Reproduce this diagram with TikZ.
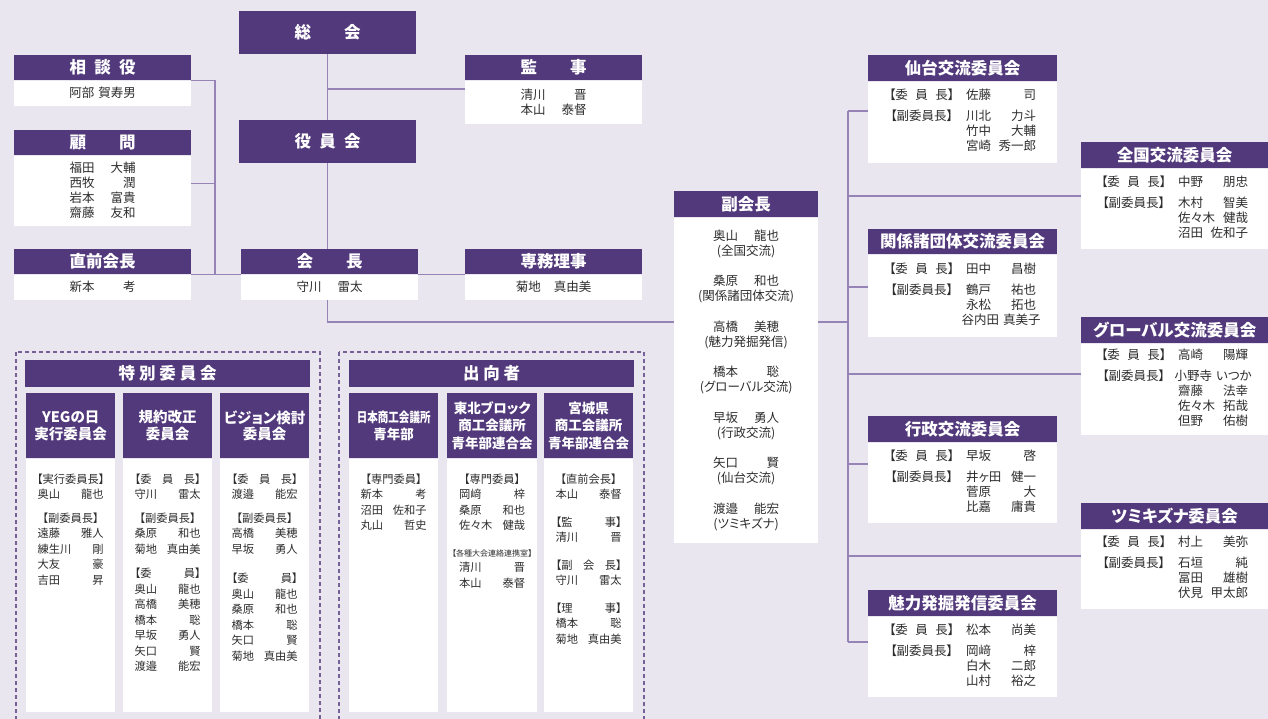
\documentclass[tikz,border=0pt]{standalone}
\usepackage{graphicx}
\usepackage{fontspec}
\setmainfont{Noto Sans CJK JP}[RawFeature={+palt}]
\usepackage{tikz}
\usetikzlibrary{positioning}
\definecolor{ybg}{RGB}{233,230,239}
\definecolor{ypurple}{RGB}{82,57,123}
\definecolor{yline}{RGB}{150,132,182}
\definecolor{ytext}{RGB}{45,45,45}
\newlength\pnw \setlength\pnw{66pt}
\newlength\lbw \setlength\lbw{66pt}
\newcommand\pn[2]{\makebox[\pnw]{#1\hspace{4pt}\hfill #2}}
\newcommand\lb[1]{\makebox[\lbw]{#1}}
\newcommand\cmbody[2]{\begin{tabular}{@{}l@{\hspace{12pt}}l@{}}\lb{【委\hfill 員\hfill 長】}&#1\\[6pt]\lb{【副委員長】}&#2\end{tabular}}
\tikzset{
  hd/.style={rectangle, fill=ypurple, text=white, inner sep=0pt, anchor=north west, font=\fontsize{16.5}{19}\selectfont\bfseries},
  bd/.style={rectangle, fill=white, text=ytext, inner sep=0pt, align=center, font=\fontsize{12.5}{15}\selectfont},
  colhd/.style={hd, minimum width=89, minimum height=65, align=center, font=\fontsize{14.5}{16.5}\selectfont\bfseries},
  colbd/.style={rectangle, fill=white, inner sep=0pt, minimum width=89, minimum height=253},
  coltx/.style={inner sep=0pt, align=left, text=ytext, font=\fontsize{11.25}{15.5}\selectfont},
  conn/.style={draw=yline, line width=1.4pt},
  frame/.style={draw=ypurple!80, line width=1.1pt, dash pattern=on 4pt off 3pt}
}
\begin{document}
\begin{tikzpicture}[x=1pt, y=-1pt]
  % background
  \fill[ybg] (0,0) rectangle (1268,719);
  \useasboundingbox (0,0) rectangle (1268,719);

  % general meeting, board
  \node[hd, minimum width=177, minimum height=43] (sokai) at (239,11) {\makebox[66pt]{総\hfill 会}};
  \node[hd, minimum width=177, minimum height=43] (yakuin) at (239,120) {\makebox[66pt]{役\hfill 員\hfill 会}};

  % advisors
  \node[hd, minimum width=177, minimum height=25] (soudan) at (14,55) {\makebox[66pt]{相\hfill 談\hfill 役}};
  \node[bd, minimum width=177, minimum height=25, below=0pt of soudan] (soudanb) {阿部\hspace{4pt}賀寿男};
  \node[hd, minimum width=177, minimum height=25] (komon) at (14,130) {\makebox[66pt]{顧\hfill 問}};
  \node[bd, minimum width=177, minimum height=70, below=0pt of komon] (komonb) {\pn{福田}{大輔}\\\pn{西牧}{潤}\\\pn{岩本}{富貴}\\\pn{齋藤}{友和}};
  \node[hd, minimum width=177, minimum height=25] (chokuzen) at (14,249) {直前会長};
  \node[bd, minimum width=177, minimum height=25, below=0pt of chokuzen] (chokuzenb) {\pn{新本}{考}};

  % president, auditors
  \node[hd, minimum width=177, minimum height=25] (kaicho) at (241,249) {\makebox[66pt]{会\hfill 長}};
  \node[bd, minimum width=177, minimum height=25, below=0pt of kaicho] (kaichob) {\pn{守川}{雷太}};
  \node[hd, minimum width=177, minimum height=25] (kanji) at (465,55) {\makebox[66pt]{監\hfill 事}};
  \node[bd, minimum width=177, minimum height=43, below=0pt of kanji] (kanjib) {\pn{清川}{晋}\\\pn{本山}{泰督}};
  \node[hd, minimum width=177, minimum height=25] (senmu) at (465,249) {専務理事};
  \node[bd, minimum width=177, minimum height=25, below=0pt of senmu] (senmub) {菊地\hspace{13pt}真由美};

  % vice presidents
  \node[hd, minimum width=144, minimum height=26] (fuku) at (674,191) {副会長};
  \node[bd, minimum width=144, minimum height=325, below=0pt of fuku] (fukub) {%
    \pn{奥山}{龍也}\\(全国交流)\\[15.5pt]
    \pn{桑原}{和也}\\(関係諸団体交流)\\[15.5pt]
    \pn{高橋}{美穂}\\(魅力発掘発信)\\[15.5pt]
    \pn{橋本}{聡}\\(グローバル交流)\\[15.5pt]
    \pn{早坂}{勇人}\\(行政交流)\\[15.5pt]
    \pn{矢口}{賢}\\(仙台交流)\\[15.5pt]
    \pn{渡邉}{能宏}\\(ツミキズナ)};

  % committees
  \setlength\lbw{65pt}\setlength\pnw{70pt}
  \node[hd, minimum width=189, minimum height=26] (sendai) at (868,55) {仙台交流委員会};
  \node[bd, minimum width=189, minimum height=81, below=0pt of sendai] (sendaib) {\cmbody{\pn{佐藤}{司}}{\pn{川北}{力斗}\\&\pn{竹中}{大輔}\\&\pn{宮崎}{秀一郎}}};
  \node[hd, minimum width=189, minimum height=25] (kankei) at (868,229) {関係諸団体交流委員会};
  \node[bd, minimum width=189, minimum height=82, below=0pt of kankei] (kankeib) {\cmbody{\pn{田中}{昌樹}}{\pn{鶴戸}{祐也}\\&\pn{永松}{拓也}\\&\pn{谷内田}{真美子}}};
  \node[hd, minimum width=189, minimum height=26] (gyosei) at (868,416) {行政交流委員会};
  \node[bd, minimum width=189, minimum height=80, below=0pt of gyosei] (gyoseib) {\cmbody{\pn{早坂}{啓}}{\pn{井ヶ田}{健一}\\&\pn{菅原}{大}\\&\pn{比嘉}{庸貴}}};
  \node[hd, minimum width=189, minimum height=26] (miryoku) at (868,590) {魅力発掘発信委員会};
  \node[bd, minimum width=189, minimum height=80, below=0pt of miryoku] (miryokub) {\cmbody{\pn{松本}{尚美}}{\pn{岡﨑}{梓}\\&\pn{白木}{二郎}\\&\pn{山村}{裕之}}};
  \node[hd, minimum width=187, minimum height=26] (zenkoku) at (1081,142) {全国交流委員会};
  \node[bd, minimum width=187, minimum height=80, below=0pt of zenkoku] (zenkokub) {\cmbody{\pn{中野}{朋忠}}{\pn{木村}{智美}\\&\pn{佐々木}{健哉}\\&\pn{沼田}{佐和子}}};
  \node[hd, minimum width=187, minimum height=26] (global) at (1081,317) {グローバル交流委員会};
  \node[bd, minimum width=187, minimum height=91, below=0pt of global] (globalb) {\cmbody{\pn{高崎}{陽輝}}{\pn{小野寺}{いつか}\\&\pn{齋藤}{法幸}\\&\pn{佐々木}{拓哉}\\&\pn{但野}{佑樹}}};
  \node[hd, minimum width=187, minimum height=26] (tsumi) at (1081,503) {ツミキズナ委員会};
  \node[bd, minimum width=187, minimum height=79, below=0pt of tsumi] (tsumib) {\cmbody{\pn{村上}{美弥}}{\pn{石垣}{純}\\&\pn{冨田}{雄樹}\\&\pn{伏見}{甲太郎}}};

  % special committees
  \setlength\lbw{66pt}\setlength\pnw{66pt}
  \draw[frame] (16,352) rectangle (320,730);
  \node[hd, minimum width=285, minimum height=27] (tokubetsu) at (25,360) {\makebox[98pt]{特\hfill 別\hfill 委\hfill 員\hfill 会}};
  \node[colhd] (yeg) at (26,393) {YEGの日\\実行委員会};
  \node[colbd, below=0pt of yeg] (yegb) {};
  \node[coltx, below=15pt of yeg] (yegt) {\lb{【実行委員長】}\\\pn{奥山}{龍也}\\[8pt]\lb{【副委員長】}\\\pn{遠藤}{雅人}\\\pn{練生川}{剛}\\\pn{大友}{豪}\\\pn{吉田}{昇}};
  \node[colhd] (kiyaku) at (123,393) {規約改正\\委員会};
  \node[colbd, below=0pt of kiyaku] (kiyakub) {};
  \node[coltx, below=15pt of kiyaku] (kiyakut) {\lb{【委\hfill 員\hfill 長】}\\\pn{守川}{雷太}\\[8pt]\lb{【副委員長】}\\\pn{桑原}{和也}\\\pn{菊地}{真由美}\\[9pt]\lb{【委\hfill 員】}\\\pn{奥山}{龍也}\\\pn{高橋}{美穂}\\\pn{橋本}{聡}\\\pn{早坂}{勇人}\\\pn{矢口}{賢}\\\pn{渡邉}{能宏}};
  \node[colhd] (vision) at (220,393) {ビジョン検討\\委員会};
  \node[colbd, below=0pt of vision] (visionb) {};
  \node[coltx, below=15pt of vision] (visiont) {\lb{【委\hfill 員\hfill 長】}\\\pn{渡邉}{能宏}\\[8pt]\lb{【副委員長】}\\\pn{高橋}{美穂}\\\pn{早坂}{勇人}\\[14pt]\lb{【委\hfill 員】}\\\pn{奥山}{龍也}\\\pn{桑原}{和也}\\\pn{橋本}{聡}\\\pn{矢口}{賢}\\\pn{菊地}{真由美}};

  % seconded members
  \draw[frame] (339,352) rectangle (644,730);
  \node[hd, minimum width=285, minimum height=27] (shukko) at (349,360) {\makebox[57pt]{出\hfill 向\hfill 者}};
  \node[colhd, font=\fontsize{13.5}{16.5}\selectfont\bfseries] (nissho) at (349,393) {\scalebox{0.78}[1]{日本商工会議所}\\青年部};
  \node[colbd, below=0pt of nissho] (nisshob) {};
  \node[coltx, below=15pt of nissho] (nisshot) {\lb{【専門委員】}\\\pn{新本}{考}\\\pn{沼田}{佐和子}\\\pn{丸山}{哲史}};
  \node[colhd, minimum width=90, font=\fontsize{13.5}{17.5}\selectfont\bfseries] (tohoku) at (447,393) {東北ブロック\\商工会議所\\青年部連合会};
  \node[colbd, minimum width=90, below=0pt of tohoku] (tohokub) {};
  \node[coltx, below=15pt of tohoku] (tohokut) {\lb{【専門委員】}\\\pn{岡﨑}{梓}\\\pn{桑原}{和也}\\\pn{佐々木}{健哉}\\[11pt]\makebox[\pnw]{\fontsize{8}{10}\selectfont 【各種大会連絡連携室】}\\\pn{清川}{晋}\\\pn{本山}{泰督}};
  \node[colhd, font=\fontsize{13.5}{17.5}\selectfont\bfseries] (miyagi) at (544,393) {宮城県\\商工会議所\\青年部連合会};
  \node[colbd, below=0pt of miyagi] (miyagib) {};
  \node[coltx, below=15pt of miyagi] (miyagit) {\lb{【直前会長】}\\\pn{本山}{泰督}\\[12pt]\lb{【監\hfill 事】}\\\pn{清川}{晋}\\[12pt]\lb{【副\hfill 会\hfill 長】}\\\pn{守川}{雷太}\\[12pt]\lb{【理\hfill 事】}\\\pn{橋本}{聡}\\\pn{菊地}{真由美}};

  % connectors
  \coordinate (brk) at (215,274);
  \coordinate (vjoin) at (674,322);
  \coordinate (trunk) at (848,111);
  \coordinate (trunkend) at (848,642);
  \draw[conn] (sokai) -- (yakuin);
  \draw[conn] (sokai.south |- 0,89) -- (kanjib.west |- 0,89);
  \draw[conn] (yakuin.south) -- (yakuin.south |- kaicho.north);
  \draw[conn] (yakuin.south |- kaichob.south) |- (vjoin);
  \draw[conn] (soudan.south east) -| (brk);
  \draw[conn] ([yshift=7pt]komonb.east) -- ([yshift=7pt]komonb.east -| brk);
  \draw[conn] (chokuzen.south east) -- (kaicho.south west);
  \draw[conn] (kaicho.south east) -- (senmu.south west);
  \draw[conn] (vjoin -| fukub.east) -- (vjoin -| trunk);
  \draw[conn] (trunk) -- (trunkend);
  \foreach \cm/\yy in {sendaib/111, zenkokub/196, kankeib/287, globalb/374, gyoseib/464, tsumib/556, miryokub/642}
    \draw[conn] (trunk |- 0,\yy) -- (\cm.west |- 0,\yy);
\end{tikzpicture}
\end{document}
